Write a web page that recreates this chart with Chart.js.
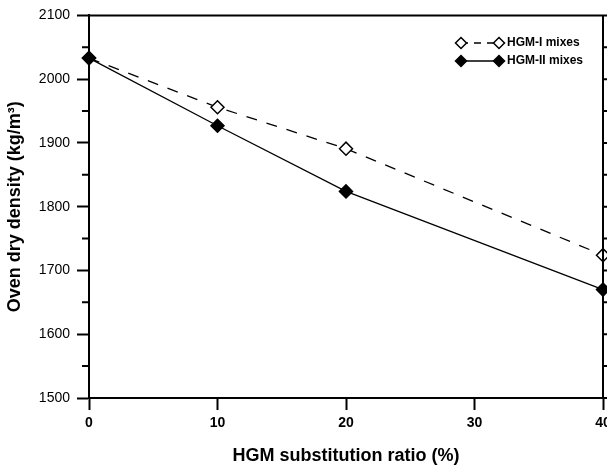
<!DOCTYPE html>
<html>
<head>
<meta charset="utf-8">
<script src="https://cdn.jsdelivr.net/npm/chart.js@4/dist/chart.umd.min.js"></script>
<style>
  html, body { margin: 0; padding: 0; background: #fff; overflow: hidden; }
  #wrap { width: 607px; height: 467px; overflow: hidden; }
</style>
</head>
<body>
<div id="wrap"><canvas id="chartDensity" width="640" height="467"></canvas></div>
<script>
const ratios       = [0, 10, 20, 40];
const hgm1Density  = [2033, 1956, 1891, 1724];
const hgm2Density  = [2033, 1927, 1824, 1670];
const seriesNames  = ['HGM-I mixes', 'HGM-II mixes'];
const xTickStep    = 10;
const yTickStep    = 100;
const yMinorStep   = 50;

const FONT = 'Arial, "Liberation Sans", Helvetica, sans-serif';

function diamond(ctx, x, y, r, fill) {
  ctx.beginPath();
  ctx.moveTo(x, y - r);
  ctx.lineTo(x + r, y);
  ctx.lineTo(x, y + r);
  ctx.lineTo(x - r, y);
  ctx.closePath();
  ctx.fillStyle = fill;
  ctx.fill();
  ctx.lineWidth = 1.5;
  ctx.strokeStyle = '#000';
  ctx.stroke();
}

// frame, minor ticks, mirrored right axis and the legend
const framePlugin = {
  id: 'frame',
  afterDraw(chart) {
    const { ctx, chartArea: a, scales: { y } } = chart;
    ctx.save();
    ctx.strokeStyle = '#000';
    ctx.lineWidth = 2;
    ctx.beginPath();
    ctx.moveTo(a.left, a.top); ctx.lineTo(a.right, a.top);
    ctx.moveTo(a.right, a.top); ctx.lineTo(a.right, a.bottom);
    ctx.stroke();

    // minor ticks on the left, all ticks on the right (outward)
    ctx.beginPath();
    for (let v = y.min; v <= y.max; v += yMinorStep) {
      const py = y.getPixelForValue(v);
      if (v % yTickStep !== 0) {
        ctx.moveTo(a.left - 7, py); ctx.lineTo(a.left, py);
      }
      ctx.moveTo(a.right, py); ctx.lineTo(a.right + 6, py);
    }
    ctx.stroke();

    // legend
    const lx1 = 461, lx2 = 499, rows = [43, 61];
    ctx.lineWidth = 1.3;
    ctx.setLineDash([7, 6]);
    ctx.beginPath(); ctx.moveTo(lx1, rows[0]); ctx.lineTo(lx2, rows[0]); ctx.stroke();
    ctx.setLineDash([]);
    ctx.beginPath(); ctx.moveTo(lx1, rows[1]); ctx.lineTo(lx2, rows[1]); ctx.stroke();
    diamond(ctx, lx1, rows[0], 5.5, '#fff');
    diamond(ctx, lx2, rows[0], 5.5, '#fff');
    diamond(ctx, lx1, rows[1], 5.5, '#000');
    diamond(ctx, lx2, rows[1], 5.5, '#000');
    ctx.fillStyle = '#000';
    ctx.font = 'bold 12px ' + FONT;
    ctx.textAlign = 'left';
    ctx.textBaseline = 'middle';
    ctx.fillText(seriesNames[0], 507, rows[0]);
    ctx.fillText(seriesNames[1], 507, rows[1]);
    ctx.restore();
  }
};

const ctx = document.getElementById('chartDensity').getContext('2d');
new Chart(ctx, {
  type: 'line',
  data: {
    datasets: [{
      label: seriesNames[0],
      data: ratios.map((r, i) => ({ x: r, y: hgm1Density[i] })),
      borderColor: '#000',
      borderWidth: 1.3,
      borderDash: [11, 10],
      pointStyle: 'rectRot',
      pointRadius: 6.5,
      pointBorderWidth: 1.5,
      pointBackgroundColor: '#fff',
      pointBorderColor: '#000',
      tension: 0,
      clip: false,
      order: 1
    }, {
      label: seriesNames[1],
      data: ratios.map((r, i) => ({ x: r, y: hgm2Density[i] })),
      borderColor: '#000',
      borderWidth: 1.3,
      pointStyle: 'rectRot',
      pointRadius: 6.5,
      pointBorderWidth: 1.5,
      pointBackgroundColor: '#000',
      pointBorderColor: '#000',
      tension: 0,
      clip: false,
      order: 0
    }]
  },
  options: {
    responsive: false,
    animation: false,
    layout: { padding: { top: 13, right: 37, bottom: 0, left: 0 } },
    plugins: { legend: { display: false }, tooltip: { enabled: false } },
    scales: {
      x: {
        type: 'linear',
        min: 0, max: 40,
        afterFit: s => { s.height = 69; },
        border: { display: true, color: '#000', width: 2 },
        grid: { drawOnChartArea: false, drawTicks: true, tickLength: 12, tickColor: '#000', tickWidth: 2 },
        ticks: { stepSize: xTickStep, color: '#000', padding: 5, callback: v => String(v),
                 font: { family: FONT, size: 14, weight: 'bold' } },
        title: {
          display: true, text: 'HGM substitution ratio (%)', color: '#000',
          padding: { top: 0, bottom: 0 },
          font: { family: FONT, size: 18, weight: 'bold' }
        }
      },
      y: {
        min: 1500, max: 2100,
        afterFit: s => { s.width = 89; },
        border: { display: true, color: '#000', width: 2 },
        grid: { drawOnChartArea: false, drawTicks: true, tickLength: 12, tickColor: '#000', tickWidth: 2 },
        ticks: { stepSize: yTickStep, color: '#000', padding: 7, callback: v => String(v),
                 font: { family: FONT, size: 14 } },
        title: {
          display: true, text: 'Oven dry density (kg/m³)', color: '#000',
          padding: { top: 4, bottom: 0 },
          font: { family: FONT, size: 18, weight: 'bold' }
        }
      }
    }
  },
  plugins: [framePlugin]
});
</script>
</body>
</html>
